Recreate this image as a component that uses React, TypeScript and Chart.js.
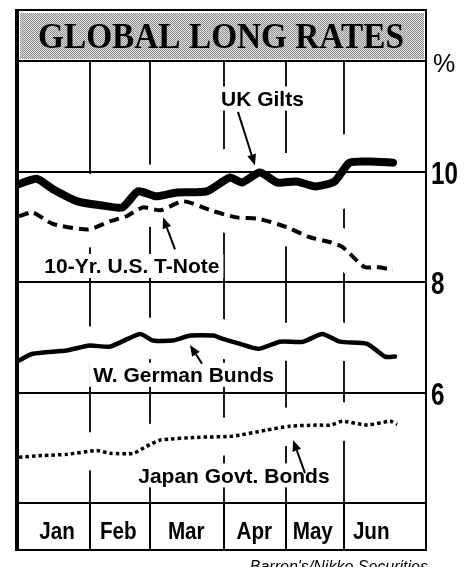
import React, { useEffect, useRef } from "react";
import { Chart, registerables } from "chart.js";

Chart.register(...registerables);

// ---- text ----
const TITLE = "GLOBAL LONG RATES";
const SOURCE = "Barron's/Nikko Securities";
const UNIT = "%";

// ---- axes (x in weeks from the start of January) ----
const months = ["Jan", "Feb", "Mar", "Apr", "May", "Jun"];
const monthDividers = [5.2, 9.6, 15.1, 19.6, 23.9];
const monthCenters = [2.8, 7.3, 12.3, 17.3, 21.6, 25.9];
const rateTicks = [6, 8, 10];
const rateTickLabels = ["6", "8", "10"];

// ---- series ----
const ukWeeks = [0, 1.3, 2.5, 4.3, 6.0, 7.6, 8.75, 10.1, 11.6, 13.8, 15.5, 16.4, 17.7, 19.0, 20.4, 21.8, 23.2, 24.3, 25.8, 27.5];
const ukRates = [9.77, 9.87, 9.68, 9.46, 9.39, 9.35, 9.64, 9.55, 9.62, 9.64, 9.89, 9.8, 9.98, 9.8, 9.82, 9.73, 9.82, 10.16, 10.18, 10.16];

const usWeeks = [0, 1.0, 2.5, 5.1, 6.7, 7.9, 9.1, 10.4, 12.1, 14.3, 16.0, 17.7, 19.7, 21.4, 22.9, 23.8, 25.4, 26.3, 27.5];
const usRates = [9.19, 9.26, 9.05, 8.95, 9.1, 9.19, 9.35, 9.3, 9.46, 9.28, 9.17, 9.14, 8.99, 8.81, 8.72, 8.63, 8.27, 8.27, 8.22];

const deWeeks = [0, 1.0, 3.5, 5.2, 6.7, 8.9, 9.85, 11.3, 12.6, 14.3, 15.0, 16.25, 17.6, 19.2, 20.9, 22.3, 23.6, 25.6, 26.9, 27.65];
const deRates = [6.58, 6.7, 6.76, 6.85, 6.83, 7.06, 6.94, 6.94, 7.03, 7.03, 6.97, 6.88, 6.79, 6.92, 6.92, 7.06, 6.92, 6.88, 6.65, 6.65];

const jpWeeks = [0, 1.8, 3.5, 5.7, 6.7, 8.4, 9.4, 10.4, 13.3, 15.7, 18.2, 19.9, 21.9, 22.9, 23.8, 25.6, 27.3, 27.8];
const jpRates = [4.83, 4.86, 4.88, 4.95, 4.9, 4.9, 5.03, 5.14, 5.19, 5.21, 5.32, 5.39, 5.41, 5.41, 5.48, 5.41, 5.48, 5.42];

// ---- series labels (centre in week/rate units) and arrows (tail -> head) ----
const labelTexts = ["UK Gilts", "10-Yr. U.S. T-Note", "W. German Bunds", "Japan Govt. Bonds"];
const labelWeeks = [17.9, 8.3, 12.1, 15.8];
const labelRates = [11.32, 8.29, 6.32, 4.5];
const arrowTailWeeks = [16.1, 11.47, 13.46, 21.03];
const arrowTailRates = [11.08, 8.59, 6.52, 4.54];
const arrowHeadWeeks = [17.35, 10.59, 12.57, 20.15];
const arrowHeadRates = [10.11, 9.17, 6.86, 5.14];

const SANS = '"Liberation Sans", Arial, sans-serif';
const SERIF = '"Liberation Serif", "Times New Roman", serif';

const haloWidths = [58, 36, 38, 38];

function makePattern(ctx: CanvasRenderingContext2D) {
  const c = document.createElement("canvas");
  c.width = 2;
  c.height = 2;
  const p = c.getContext("2d")!;
  p.fillStyle = "#e4e4e4";
  p.fillRect(0, 0, 2, 2);
  p.fillStyle = "#8a8a8a";
  p.fillRect(0, 0, 1, 1);
  p.fillRect(1, 1, 1, 1);
  return ctx.createPattern(c, "repeat") || "#bbb";
}

// condensed text: horizontally squeezed
function condensedText(ctx: CanvasRenderingContext2D, text: string, x: number, y: number, sx: number) {
  ctx.save();
  ctx.translate(x, y);
  ctx.scale(sx, 1);
  ctx.fillText(text, 0, 0);
  ctx.restore();
}

function drawArrow(ctx: CanvasRenderingContext2D, x1: number, y1: number, x2: number, y2: number) {
  const ang = Math.atan2(y2 - y1, x2 - x1);
  const head = 11;
  const half = 4.5;
  const c = Math.cos(ang);
  const s = Math.sin(ang);
  ctx.strokeStyle = "#000";
  ctx.fillStyle = "#000";
  ctx.lineWidth = 2;
  ctx.beginPath();
  ctx.moveTo(x1, y1);
  ctx.lineTo(x2 - head * c, y2 - head * s);
  ctx.stroke();
  ctx.beginPath();
  ctx.moveTo(x2, y2);
  ctx.lineTo(x2 - head * c + half * s, y2 - head * s - half * c);
  ctx.lineTo(x2 - head * c - half * s, y2 - head * s + half * c);
  ctx.closePath();
  ctx.fill();
}

const decorPlugin = {
  id: "barronsDecor",
  beforeDraw(chart: any) {
    const { ctx, chartArea: a, scales } = chart;
    const xs = scales.x;
    const ys = scales.y;
    const bandTop = a.top - 51;
    const rowBottom = a.bottom + 47;
    ctx.save();
    ctx.fillStyle = "#fff";
    ctx.fillRect(0, 0, chart.width, chart.height);

    // title band
    ctx.fillStyle = makePattern(ctx);
    ctx.fillRect(a.left + 1, bandTop + 3, a.right - a.left - 4, a.top - bandTop - 5);
    ctx.fillStyle = "#000";
    ctx.font = "bold 36px " + SERIF;
    ctx.textAlign = "center";
    ctx.textBaseline = "alphabetic";
    ctx.fillText(TITLE, (a.left + a.right) / 2 - 2, a.top - 13, 366);

    // unit
    ctx.font = "25px " + SANS;
    ctx.textAlign = "left";
    ctx.fillText(UNIT, a.right + 6, a.top + 11);

    // right tick labels
    ctx.font = "bold 31px " + SANS;
    ctx.textAlign = "left";
    rateTicks.forEach((v, i) => {
      condensedText(ctx, rateTickLabels[i], a.right + 4, ys.getPixelForValue(v) + 12, 0.78);
    });

    // month labels
    ctx.font = "bold 24px " + SANS;
    ctx.textAlign = "center";
    months.forEach((m, i) => {
      condensedText(ctx, m, xs.getPixelForValue(monthCenters[i]), a.bottom + 36, 0.86);
    });

    // month row dividers
    ctx.strokeStyle = "#000";
    ctx.lineWidth = 2;
    monthDividers.forEach((w) => {
      const px = Math.round(xs.getPixelForValue(w));
      ctx.beginPath();
      ctx.moveTo(px, a.bottom);
      ctx.lineTo(px, rowBottom);
      ctx.stroke();
    });

    // source
    ctx.font = "italic 16px " + SANS;
    ctx.textAlign = "right";
    ctx.fillText(SOURCE, a.right + 1, rowBottom + 22);
    ctx.restore();
  },
  beforeDatasetsDraw(chart: any) {
    const { ctx, chartArea: a, scales } = chart;
    const xs = scales.x;
    const ys = scales.y;
    ctx.save();
    // vertical month lines
    ctx.strokeStyle = "#000";
    ctx.lineWidth = 1.8;
    monthDividers.forEach((w) => {
      const px = Math.round(xs.getPixelForValue(w));
      ctx.beginPath();
      ctx.moveTo(px, a.top);
      ctx.lineTo(px, a.bottom);
      ctx.stroke();
    });
    // white halos around each series
    ctx.save();
    ctx.beginPath();
    ctx.rect(a.left, a.top, a.right - a.left, a.bottom - a.top);
    ctx.clip();
    chart.data.datasets.forEach((_d: any, i: number) => {
      const pts = chart.getDatasetMeta(i).data;
      ctx.strokeStyle = "#fff";
      ctx.lineWidth = haloWidths[i];
      ctx.lineJoin = "round";
      ctx.lineCap = "round";
      ctx.beginPath();
      pts.forEach((p: any, j: number) => (j === 0 ? ctx.moveTo(p.x, p.y) : ctx.lineTo(p.x, p.y)));
      ctx.stroke();
    });
    ctx.restore();
    // horizontal grid lines
    ctx.strokeStyle = "#000";
    ctx.lineWidth = 2;
    rateTicks.forEach((v) => {
      const py = Math.round(ys.getPixelForValue(v));
      ctx.beginPath();
      ctx.moveTo(a.left, py);
      ctx.lineTo(a.right, py);
      ctx.stroke();
    });
    // series labels
    ctx.font = "bold 21px " + SANS;
    ctx.textAlign = "center";
    ctx.textBaseline = "alphabetic";
    labelTexts.forEach((t, i) => {
      const cx = xs.getPixelForValue(labelWeeks[i]);
      const cy = ys.getPixelForValue(labelRates[i]);
      const w = ctx.measureText(t).width;
      ctx.fillStyle = "#fff";
      ctx.fillRect(cx - w / 2 - 4, cy - 12, w + 8, 24);
      ctx.fillStyle = "#000";
      ctx.fillText(t, cx, cy + 7.5);
      drawArrow(
        ctx,
        xs.getPixelForValue(arrowTailWeeks[i]),
        ys.getPixelForValue(arrowTailRates[i]),
        xs.getPixelForValue(arrowHeadWeeks[i]),
        ys.getPixelForValue(arrowHeadRates[i])
      );
    });
    ctx.restore();
  },
  afterDraw(chart: any) {
    const { ctx, chartArea: a } = chart;
    const bandTop = a.top - 51;
    const rowBottom = a.bottom + 47;
    ctx.save();
    ctx.strokeStyle = "#000";
    ctx.lineWidth = 2;
    ctx.beginPath();
    ctx.moveTo(a.left - 4, bandTop);
    ctx.lineTo(a.right, bandTop);
    ctx.moveTo(a.left, a.top);
    ctx.lineTo(a.right, a.top);
    ctx.moveTo(a.left, a.bottom);
    ctx.lineTo(a.right, a.bottom);
    ctx.moveTo(a.left - 4, rowBottom);
    ctx.lineTo(a.right, rowBottom);
    ctx.moveTo(a.right - 1, bandTop);
    ctx.lineTo(a.right - 1, rowBottom);
    ctx.stroke();
    ctx.lineWidth = 4;
    ctx.beginPath();
    ctx.moveTo(a.left - 2, bandTop - 1);
    ctx.lineTo(a.left - 2, rowBottom + 1);
    ctx.stroke();
    ctx.restore();
  },
};

const toXY = (ws: number[], rs: number[]) => ws.map((w, i) => ({ x: w, y: rs[i] }));

export default function App() {
  const ref = useRef<HTMLCanvasElement>(null);
  useEffect(() => {
    const canvas = ref.current;
    if (!canvas) return;
    const chart = new Chart(canvas, {
      type: "line",
      data: {
        datasets: [
          {
            label: "UK Gilts",
            data: toXY(ukWeeks, ukRates),
            borderColor: "#000",
            borderWidth: 8,
            borderCapStyle: "round",
          },
          {
            label: "10-Yr. U.S. T-Note",
            data: toXY(usWeeks, usRates),
            borderColor: "#000",
            borderWidth: 4,
            borderDash: [10, 6],
            borderCapStyle: "butt",
          },
          {
            label: "W. German Bunds",
            data: toXY(deWeeks, deRates),
            borderColor: "#000",
            borderWidth: 4.5,
            borderCapStyle: "round",
          },
          {
            label: "Japan Govt. Bonds",
            data: toXY(jpWeeks, jpRates),
            borderColor: "#000",
            borderWidth: 3.5,
            borderDash: [3.5, 3],
            borderCapStyle: "butt",
          },
        ],
      },
      options: {
        responsive: false,
        animation: false,
        devicePixelRatio: 1,
        layout: { padding: { left: 19, top: 61, right: 48, bottom: 64 } },
        scales: {
          x: { type: "linear", display: false, min: 0, max: 30 },
          y: { type: "linear", display: false, min: 4, max: 12 },
        },
        plugins: { legend: { display: false }, tooltip: { enabled: false } },
        elements: {
          point: { radius: 0 },
          line: { tension: 0.2, borderJoinStyle: "round" },
        },
      },
      plugins: [decorPlugin],
    } as any);
    return () => chart.destroy();
  }, []);
  return (
    <div style={{ position: "absolute", left: 0, top: 0, width: 475, height: 567, background: "#fff" }}>
      <canvas ref={ref} width={475} height={567} style={{ display: "block" }} />
    </div>
  );
}
